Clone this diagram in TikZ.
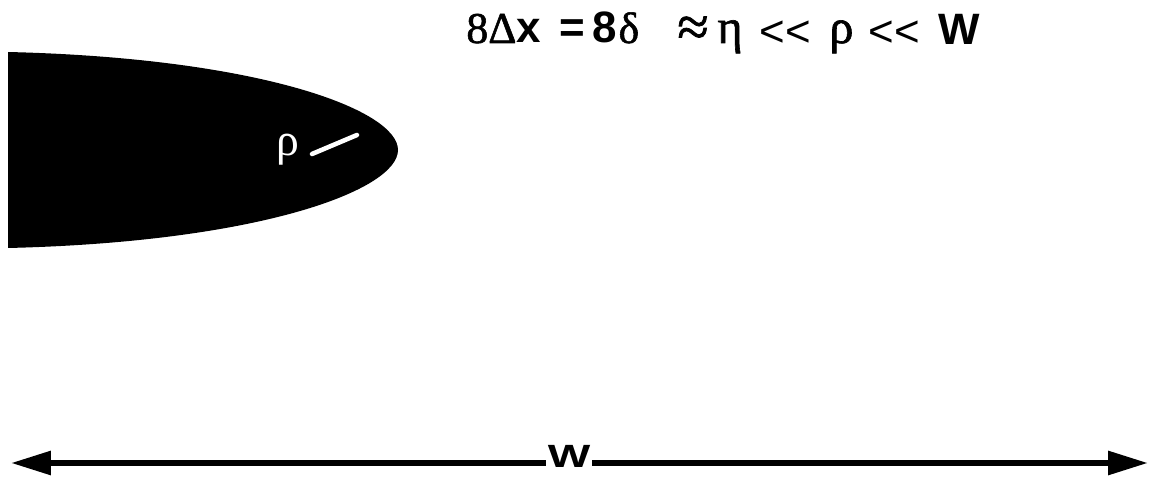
\documentclass[tikz,border=0pt]{standalone}
\usepackage{fontspec}
\setmainfont{Liberation Serif}
\newfontfamily\sansfam{Liberation Sans}
\newfontfamily\heavyserif{Liberation Serif}[FakeBold=1.3]
\usetikzlibrary{arrows.meta}

% wide lettering of the original
\newcommand{\wide}[1]{\scalebox{1.4}[1]{#1}}

\tikzset{
  piece/.style={anchor=base west, inner sep=0pt, font=\heavyserif\fontsize{25}{30}\selectfont},
  rholabel/.style={text=white, inner sep=0pt, font=\fontsize{26}{30}\selectfont},
  radius line/.style={white, line width=2.6pt, line cap=round},
  wlabel/.style={inner sep=1pt, font=\sansfam\bfseries\fontsize{18.3}{22}\selectfont},
  dim/.style={line width=3.4pt, -{Triangle[length=8mm, width=4.6mm]}}
}

\begin{document}
\begin{tikzpicture}[x=0.02cm, y=-0.02cm]
  \useasboundingbox (0,0) rectangle (1152,482);

  % dendrite tip
  \fill (8,52) .. controls (260,58) and (398,110) .. (398,150)
        .. controls (398,190) and (260,242) .. (8,248) -- cycle;
  \node[rholabel] (rho) at (288,150) {ρ};
  \coordinate (r0) at (312,154);
  \coordinate (r1) at (357,135);
  \draw[radius line] (r0) -- (r1);

  % scale relation
  \node[piece] (dx)   at (466,43) {8Δ{\sansfam\bfseries x}};
  \node[piece] (eq)   at (559,43) {\sansfam\bfseries =};
  \node[piece] (dl)   at (592,43) {{\sansfam\bfseries 8}\kern1pt δ};
  \node[piece] (ap)   at (677,46) {\scalebox{1.3}{≈}};
  \node[piece] (eta)  at (717,43) {\scalebox{1.1}{η}};
  \node[piece] (ll1)  at (759,47) {\sansfam <\kern0pt<};
  \node[piece] (rh)   at (829,43) {\scalebox{1.1}{ρ}};
  \node[piece] (ll2)  at (868,47) {\sansfam <\kern0pt<};
  \node[piece] (wtop) at (938,45) {\sansfam\bfseries W};

  % width of the domain
  \coordinate (wl) at (11,463);
  \coordinate (wr) at (1148,463);
  \node[wlabel] (w) at (569,456) {\wide{W}};
  \draw[dim] (w.west |- wl) -- (wl);
  \draw[dim] (w.east |- wr) -- (wr);
\end{tikzpicture}
\end{document}
